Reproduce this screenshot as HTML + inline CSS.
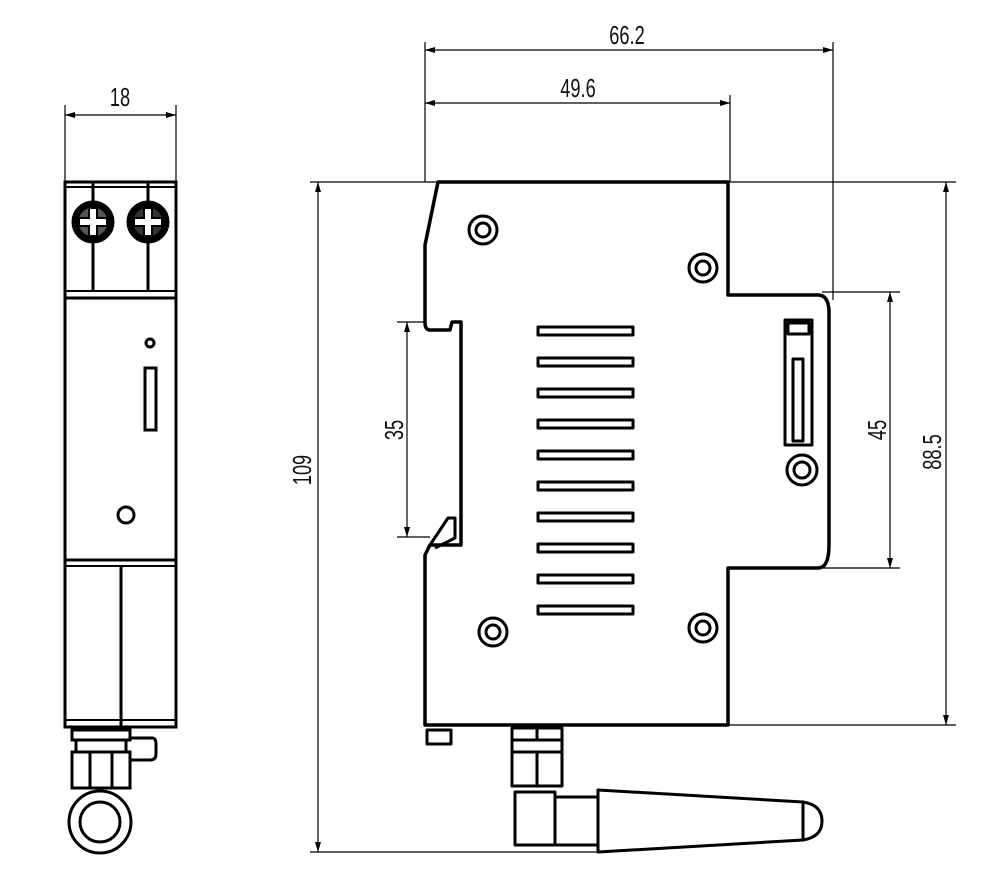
<!DOCTYPE html>
<html><head><style>html,body{margin:0;padding:0;background:#fff}svg{display:block}text{font-family:"Liberation Sans",sans-serif;font-size:26px;fill:#111}</style></head>
<body>
<svg width="1000" height="875" viewBox="0 0 1000 875" xmlns="http://www.w3.org/2000/svg">
<defs>
<marker id="a" viewBox="0 0 10 6" refX="10" refY="3" markerWidth="10" markerHeight="6" orient="auto-start-reverse" markerUnits="userSpaceOnUse"><path d="M0,0 L10,3 L0,6z" fill="#000"/></marker>
</defs>
<g stroke="#000" fill="none">
<g stroke-width="1.2">
<line x1="65" y1="105" x2="65" y2="182"/><line x1="176" y1="105" x2="176" y2="182"/>
<line x1="65" y1="115" x2="176" y2="115" marker-start="url(#a)" marker-end="url(#a)"/>
</g>
<g stroke-width="3">
<rect x="65" y="182" width="111" height="545"/>
<line x1="65" y1="187" x2="176" y2="187" stroke-width="2"/>
<line x1="65" y1="291" x2="176" y2="291" stroke-width="2"/>
<line x1="65" y1="298" x2="176" y2="298"/>
<line x1="93" y1="182" x2="93" y2="291"/><line x1="148" y1="182" x2="148" y2="291"/>
<circle cx="93" cy="222" r="18" fill="#555" stroke-width="7"/>
<circle cx="148" cy="222" r="18" fill="#333" stroke-width="7"/>
<path d="M89,208 h8 v10 h10 v8 h-10 v10 h-8 v-10 h-10 v-8 h10z" fill="#fff" stroke-width="2"/>
<path d="M144,208 h8 v10 h10 v8 h-10 v10 h-8 v-10 h-10 v-8 h10z" fill="#fff" stroke-width="2"/>
<circle cx="150" cy="343" r="4"/>
<rect x="145" y="368" width="11" height="62"/>
<circle cx="126" cy="515" r="8"/>
<line x1="65" y1="560" x2="176" y2="560"/>
<line x1="65" y1="566" x2="176" y2="566" stroke-width="2"/>
<line x1="121" y1="566" x2="121" y2="727"/>
<line x1="65" y1="720" x2="176" y2="720" stroke-width="2"/>
<rect x="72" y="730" width="58" height="10"/>
<rect x="76" y="740" width="50" height="12"/>
<rect x="72" y="752" width="58" height="36"/>
<line x1="90" y1="752" x2="90" y2="788"/><line x1="112" y1="752" x2="112" y2="788"/>
<path d="M130,738 h22 q4,0 4,6 v10 q0,6 -6,6 h-20"/>
<circle cx="100" cy="822" r="31"/>
<circle cx="100" cy="822" r="20"/>
</g>
</g>
<text x="120" y="106" text-anchor="middle" transform="translate(120,0) scale(0.7,1) translate(-120,0)">18</text>

<g stroke="#000" fill="none" stroke-width="1.2">
<line x1="425" y1="42" x2="425" y2="182"/><line x1="833" y1="42" x2="833" y2="300"/>
<line x1="425" y1="50" x2="833" y2="50" marker-start="url(#a)" marker-end="url(#a)"/>
<line x1="730" y1="95" x2="730" y2="182"/>
<line x1="425" y1="103" x2="730" y2="103" marker-start="url(#a)" marker-end="url(#a)"/>
<line x1="310" y1="182" x2="437" y2="182"/><line x1="728" y1="182" x2="956" y2="182"/>
<line x1="310" y1="852" x2="600" y2="852"/>
<line x1="318" y1="182" x2="318" y2="852" marker-start="url(#a)" marker-end="url(#a)"/>
<line x1="397" y1="322" x2="425" y2="322"/><line x1="397" y1="537" x2="430" y2="537"/>
<line x1="407" y1="322" x2="407" y2="537" marker-start="url(#a)" marker-end="url(#a)"/>
<line x1="822" y1="292" x2="900" y2="292"/><line x1="822" y1="568" x2="900" y2="568"/>
<line x1="890" y1="292" x2="890" y2="568" marker-start="url(#a)" marker-end="url(#a)"/>
<line x1="728" y1="725" x2="956" y2="725"/>
<line x1="946" y1="182" x2="946" y2="725" marker-start="url(#a)" marker-end="url(#a)"/>
</g>
<g stroke="#000" fill="none" stroke-width="3.5" stroke-linejoin="round">
<path d="M438,182 H728 V295 H818 Q828,295 829,310 V545 Q829,568 818,568 H728 V725 H425 V555 L430,545 H461 V322 H452 L450,330 H430 Q425,330 425,322 V245 Z"/>
<path d="M428,548 L448,518 H455 V538 L435,548" stroke-width="3"/>
<g stroke-width="3">
<rect x="538" y="327" width="95" height="8"/><rect x="538" y="358" width="95" height="8"/>
<rect x="538" y="389" width="95" height="8"/><rect x="538" y="420" width="95" height="8"/>
<rect x="538" y="451" width="95" height="8"/><rect x="538" y="482" width="95" height="8"/>
<rect x="538" y="513" width="95" height="8"/><rect x="538" y="544" width="95" height="8"/>
<rect x="538" y="575" width="95" height="8"/><rect x="538" y="606" width="95" height="8"/>
<circle cx="483" cy="230" r="14"/><circle cx="483" cy="230" r="7"/>
<circle cx="703" cy="268" r="14"/><circle cx="703" cy="268" r="7"/>
<circle cx="493" cy="632" r="14"/><circle cx="493" cy="632" r="7"/>
<circle cx="703" cy="628" r="14"/><circle cx="703" cy="628" r="7"/>
<circle cx="802" cy="470" r="15"/><circle cx="802" cy="470" r="8"/>
<rect x="785" y="320" width="27" height="125"/>
<rect x="788" y="323" width="21" height="11"/>
<rect x="793" y="359" width="10" height="82"/>
<rect x="427" y="730" width="24" height="14"/>
<rect x="512" y="728" width="50" height="12"/><line x1="537" y1="728" x2="537" y2="740"/>
<rect x="512" y="740" width="50" height="12"/>
<rect x="512" y="752" width="50" height="34"/><line x1="537" y1="752" x2="537" y2="786"/>
<rect x="515" y="792" width="40" height="53"/>
<rect x="555" y="797" width="43" height="48"/>
<path d="M598,790 L803,802 V840 L598,852 Z"/>
<path d="M803,802 Q822,805 822,821 Q822,837 803,840"/>
</g>
</g>
<g>
<text x="627" y="44" text-anchor="middle" transform="translate(627,0) scale(0.7,1) translate(-627,0)">66.2</text>
<text x="578" y="97" text-anchor="middle" transform="translate(578,0) scale(0.7,1) translate(-578,0)">49.6</text>
<text transform="translate(311,470) rotate(-90) scale(0.7,1)" text-anchor="middle">109</text>
<text transform="translate(403,430) rotate(-90) scale(0.7,1)" text-anchor="middle">35</text>
<text transform="translate(886,430) rotate(-90) scale(0.7,1)" text-anchor="middle">45</text>
<text transform="translate(941,452) rotate(-90) scale(0.7,1)" text-anchor="middle">88.5</text>
</g>
</svg>
</body></html>
